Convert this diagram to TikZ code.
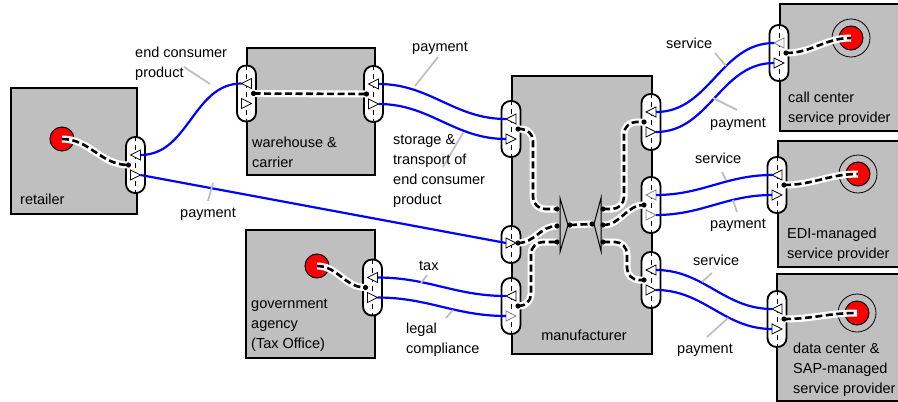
\documentclass[tikz,border=0pt]{standalone}
\usepackage{fontspec}
\setmainfont{Liberation Sans}

\tikzset{
  unit/.style={draw, line width=1.8pt, fill=black!25, anchor=north west, inner sep=0},
  port/.style={draw, line width=1.8pt, fill=white, rounded corners=9pt, minimum width=19pt, minimum height=56pt, inner sep=0},
  seam/.style={line width=1pt, dash pattern=on 5pt off 4pt},
  tri/.style={line width=0.8pt, fill=white},
  flow/.style={blue, line width=2.2pt},
  link/.style={preaction={draw, white, line width=7pt, solid}, draw, black, line width=2.6pt, dash pattern=on 7pt off 3.5pt},
  spot/.style={circle, draw, line width=1pt, fill=red, minimum size=24pt, inner sep=0},
  ring/.style={circle, draw, line width=0.8pt, minimum size=38pt, inner sep=0},
  leader/.style={black!25, line width=1.8pt},
  lbl/.style={anchor=base west, align=left, inner sep=0},
}

% port: name, x, y, side of the outer lines (-1 left, 1 right), colour in, colour out
\newcommand{\port}[6]{%
  \node[port] (#1) at (#2,#3) {};
  \draw[seam] (#1.north) -- (#1.south);
  \coordinate (#1-in)  at ({#2+5*(#4)},{#3-10});
  \coordinate (#1-out) at ({#2+5*(#4)},{#3+10});
  \coordinate (#1-dot) at ({#2-7*(#4)},#3);
  \filldraw[tri, draw=#5] ({#2-5},{#3-10}) -- ({#2+5},{#3-15}) -- ({#2+5},{#3-5}) -- cycle;
  \filldraw[tri, draw=#6] ({#2+5},{#3+10}) -- ({#2-5},{#3+5}) -- ({#2-5},{#3+15}) -- cycle;
}

\begin{document}
\begin{tikzpicture}[x=1pt, y=-1pt, font=\fontsize{14.5}{20}\selectfont]
  \useasboundingbox (0,0) rectangle (898,402);

  % Units
  \node[unit, minimum width=126pt, minimum height=126pt] (retailer) at (10,87) {};
  \node[unit, minimum width=128pt, minimum height=127pt] (warehouse) at (246,47) {};
  \node[unit, minimum width=129pt, minimum height=128pt] (agency) at (245,229) {};
  \node[unit, minimum width=140pt, minimum height=278pt] (manufacturer) at (511,75) {};
  \node[unit, minimum width=130pt, minimum height=127pt] (callcenter) at (779,3) {};
  \node[unit, minimum width=130pt, minimum height=126pt] (edi) at (777,140) {};
  \node[unit, minimum width=130pt, minimum height=127pt] (sap) at (776,273) {};

  % Unit labels (anchored at the last line)
  \node[lbl] (retailer-txt) at (20,204) {retailer};
  \node[lbl] (warehouse-txt) at (252,167) {warehouse \&\\carrier};
  \node[lbl] (agency-txt) at (251,348) {government\\agency\\(Tax Office)};
  \node[anchor=base, inner sep=0] (manufacturer-txt) at (584,340) {manufacturer};
  \node[lbl] (callcenter-txt) at (788,122) {call center\\service provider};
  \node[lbl] (edi-txt) at (787,258) {EDI-managed\\service provider};
  \node[lbl] (sap-txt) at (793,393) {data center \&\\SAP-managed\\service provider};

  % Ports
  \port{rp}{135.5}{165}{1}{black}{black}
  \port{wl}{246.5}{93.5}{-1}{black}{black}
  \port{wr}{373.5}{94}{1}{black}{black}
  \port{ml1}{511}{129}{-1}{black}{black}
  \port{ml3}{511}{306}{-1}{black}{gray}
  \port{mr1}{651}{122}{1}{black}{black}
  \port{mr2}{651}{205}{1}{gray}{gray}
  \port{mr3}{651}{280}{1}{black}{black}
  \port{ccp}{779}{53}{-1}{gray}{black}
  \port{edip}{777}{185}{-1}{black}{black}
  \port{sapp}{777}{319}{-1}{black}{black}
  \port{gp}{372.5}{287.5}{1}{black}{black}
  % short port with one way in
  \node[port, minimum height=37pt] (ml2) at (511,244.5) {};
  \draw[seam] (ml2.north) -- (ml2.south);
  \coordinate (ml2-out) at (506,243);
  \coordinate (ml2-dot) at (518,243);
  \filldraw[tri, draw=black] (516,243) -- (506,238) -- (506,248) -- cycle;

  % Spots
  \node[spot] (retailer-spot) at (62,139) {};
  \node[spot] (agency-spot) at (317,266) {};
  \node[ring] (cc-ring) at (851,38) {};
  \node[spot] (cc-spot) at (851,38) {};
  \node[ring] (edi-ring) at (858,174) {};
  \node[spot] (edi-spot) at (858,174) {};
  \node[ring] (sap-ring) at (857,313) {};
  \node[spot] (sap-spot) at (857,313) {};

  % Splitters
  \coordinate (sl-1) at (557,209);
  \coordinate (sl-2) at (557,226);
  \coordinate (sl-3) at (557,242);
  \coordinate (sl-t) at (570,225);
  \coordinate (sr-t) at (592,224);
  \coordinate (sr-1) at (603,209);
  \coordinate (sr-2) at (603,225);
  \coordinate (sr-3) at (603,242);
  \draw[line width=1pt] (560,198) -- (568,225) -- (560,252) -- cycle;
  \draw[line width=1pt] (601,198) -- (594,224) -- (601,251) -- cycle;

  % Internal links
  \draw[link] (retailer-spot.center) to[out=0,in=180] (rp-dot);
  \draw[link] (wl-dot) -- (wr-dot);
  \draw[link] (agency-spot.center) to[out=0,in=180] (gp-dot);
  \draw[link, rounded corners=12pt] (ml1-dot) -| ([xshift=-24pt]sl-1) -- (sl-1);
  \draw[link] (ml2-dot) to[out=0,in=180] (sl-2);
  \draw[link, rounded corners=12pt] (ml3-dot) -| ([xshift=-26pt]sl-3) -- (sl-3);
  \draw[link] (sl-t) -- (sr-t);
  \draw[link, rounded corners=12pt] (sr-1) -| ([xshift=-20pt]mr1-dot) -- (mr1-dot);
  \draw[link] (sr-2) to[out=0,in=180] (mr2-dot);
  \draw[link, rounded corners=12pt] (sr-3) -| ([xshift=-17pt]mr3-dot) -- (mr3-dot);
  \draw[link] (ccp-dot) to[out=0,in=180] (cc-spot.center);
  \draw[link] (edip-dot) to[out=0,in=180] (edi-spot.center);
  \draw[link] (sapp-dot) to[out=0,in=180] (sap-spot.center);

  % Dots
  \foreach \d in {rp-dot, wl-dot, wr-dot, ml1-dot, ml2-dot, ml3-dot, mr1-dot, mr2-dot, mr3-dot,
                  ccp-dot, edip-dot, sapp-dot, gp-dot, sl-1, sl-2, sl-3, sl-t, sr-t, sr-1, sr-2, sr-3}
    \fill (\d) circle (2.6pt);

  % Flows
  \draw[flow] (rp-in) to[out=0,in=180] (wl-in);
  \draw[flow] (rp-out) -- (ml2-out);
  \draw[flow] (wr-in) to[out=0,in=180] (ml1-in);
  \draw[flow] (wr-out) to[out=0,in=180] (ml1-out);
  \draw[flow] (gp-in) to[out=0,in=180] (ml3-in);
  \draw[flow] (gp-out) to[out=0,in=180] (ml3-out);
  \draw[flow] (mr1-in) to[out=0,in=180] (ccp-in);
  \draw[flow] (mr1-out) to[out=0,in=180] (ccp-out);
  \draw[flow] (mr2-in) to[out=0,in=180] (edip-in);
  \draw[flow] (mr2-out) to[out=0,in=180] (edip-out);
  \draw[flow] (mr3-in) to[out=0,in=180] (sapp-in);
  \draw[flow] (mr3-out) to[out=0,in=180] (sapp-out);

  % Flow labels
  \draw[leader] (184,67) -- (210,84);
  \draw[leader] (213,183) -- (208,201);
  \draw[leader] (438,57) -- (415,86);
  \draw[leader] (463,133) -- (443,167);
  \draw[leader] (427,275) -- (421,283);
  \draw[leader] (453,310) -- (446,318);
  \draw[leader] (715,53) -- (726,66);
  \draw[leader] (713,98) -- (737,110);
  \draw[leader] (722,172) -- (726,180);
  \draw[leader] (733,200) -- (737,212);
  \draw[leader] (712,273) -- (702,282);
  \draw[leader] (728,318) -- (707,337);
  \node[lbl] (product-txt) at (135,77) {end consumer\\product};
  \node[lbl] (pay1-txt) at (180,217) {payment};
  \node[lbl] (pay2-txt) at (412,51) {payment};
  \node[lbl] (storage-txt) at (393,204) {storage \&\\transport of\\end consumer\\product};
  \node[lbl] (tax-txt) at (419,270) {tax};
  \node[lbl] (legal-txt) at (406,353) {legal\\compliance};
  \node[lbl] (srv1-txt) at (666,48) {service};
  \node[lbl] (pay3-txt) at (710,127) {payment};
  \node[lbl] (srv2-txt) at (695,163) {service};
  \node[lbl] (pay4-txt) at (710,228) {payment};
  \node[lbl] (srv3-txt) at (693,265) {service};
  \node[lbl] (pay5-txt) at (677,353) {payment};
\end{tikzpicture}
\end{document}
